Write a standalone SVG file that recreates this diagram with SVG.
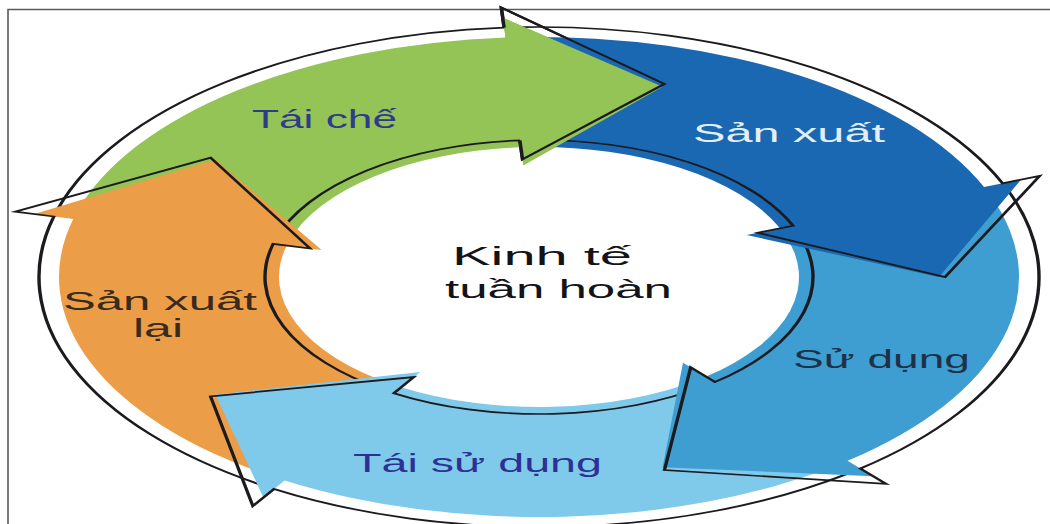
<svg xmlns="http://www.w3.org/2000/svg" xmlns:xlink="http://www.w3.org/1999/xlink" width="1050" height="524" viewBox="0 0 1050 524">
<style>
.ol{fill:none;stroke:#1b1b1f;stroke-width:1.7;stroke-linejoin:miter}
.lbl{font-family:"Liberation Sans",Arial,sans-serif;font-size:25px}
</style>
<defs>
<path id="aGreen" d="M-124.96,-35.83 L-230.70,-66.15 A240,240 0 0 1 -16.74,-239.41 L-18.14,-259.37 L61.80,-190.21 L-7.81,-111.73 L-9.07,-129.68 A130,130 0 0 0 -124.96,-35.83 Z"/>
<path id="oGreen" d="M-131.68,-37.76 L-240.32,-68.91 A250,250 0 0 1 -17.44,-249.39 L-18.84,-269.36 L62.73,-193.06 L-8.23,-117.72 L-9.56,-136.66 A137,137 0 0 0 -131.68,-37.76 Z"/>
<path id="aGreenHead" d="M-16.74,-239.41 L-18.14,-259.37 L61.80,-190.21 L-7.81,-111.73 L-9.07,-129.68"/>
<path id="oGreenHead" d="M-17.44,-249.39 L-18.84,-269.36 L62.73,-193.06 L-8.23,-117.72 L-9.56,-136.66"/>
<path id="aBlue" d="M-4.54,-129.92 L-8.38,-239.85 A240,240 0 0 1 222.52,-89.91 L241.07,-97.40 L200,0 L103.84,-41.96 L120.53,-48.70 A130,130 0 0 0 -4.54,-129.92 Z"/>
<path id="oBlue" d="M-4.78,-136.91 L-8.73,-249.85 A250,250 0 0 1 231.80,-93.66 L250.35,-101.15 L203,0 L109.40,-44.21 L127.01,-51.32 A137,137 0 0 0 -4.78,-136.91 Z"/>
<path id="aSD" d="M122.16,-44.46 L225.53,-82.08 A240,240 0 0 1 154.27,183.85 L167.13,199.17 L61.80,190.21 L71.99,85.80 L83.56,99.59 A130,130 0 0 0 122.16,-44.46 Z"/>
<path id="oSD" d="M128.73,-46.85 L234.93,-85.50 A250,250 0 0 1 160.70,191.52 L173.56,206.84 L62.73,193.06 L75.85,90.40 L88.06,104.95 A137,137 0 0 0 128.73,-46.85 Z"/>
<path id="aLB" d="M80.04,102.44 L147.76,189.12 A240,240 0 0 1 -127.18,203.53 L-137.78,220.49 L-161.80,117.56 L-59.35,94.98 L-68.89,110.25 A130,130 0 0 0 80.04,102.44 Z"/>
<path id="oLB" d="M84.35,107.95 L153.92,197.00 A250,250 0 0 1 -132.48,212.02 L-143.08,228.98 L-164.23,119.32 L-62.53,100.07 L-72.60,116.18 A137,137 0 0 0 84.35,107.95 Z"/>
<path id="aOr" d="M-72.69,107.78 L-134.21,198.97 A240,240 0 0 1 -232.87,-58.06 L-252.28,-62.90 L-161.80,-117.56 L-108.67,-27.10 L-126.14,-31.45 A130,130 0 0 0 -72.69,107.78 Z"/>
<path id="oOr" d="M-76.60,113.58 L-139.81,207.27 A250,250 0 0 1 -242.58,-60.48 L-261.99,-65.32 L-164.23,-119.32 L-114.49,-28.55 L-132.93,-33.14 A137,137 0 0 0 -76.60,113.58 Z"/>
</defs>
<rect width="1050" height="524" fill="#ffffff"/>
<path d="M8,524 V9.5 H1050" fill="none" stroke="#5a5a5a" stroke-width="1.6"/>

<g id="ring" transform="translate(539,277) scale(2,1)">
  <g id="tai-che-body">
    <use xlink:href="#aGreen" fill="#94c356"/>
    <use xlink:href="#oGreen" class="ol"/>
  </g>
  <g id="san-xuat-lai-shape">
    <use xlink:href="#aOr" fill="#eb9e47"/>
    <use xlink:href="#oOr" class="ol"/>
  </g>
  <g id="tai-su-dung-shape">
    <use xlink:href="#aLB" fill="#7fc9ea"/>
    <use xlink:href="#oLB" class="ol"/>
  </g>
  <g id="su-dung-shape">
    <use xlink:href="#aSD" fill="#3f9ed1"/>
    <use xlink:href="#oSD" class="ol"/>
  </g>
  <g id="san-xuat-shape">
    <use xlink:href="#aBlue" fill="#1b68b2"/>
    <use xlink:href="#oBlue" class="ol"/>
  </g>
  <g id="tai-che-head">
    <use xlink:href="#aGreenHead" fill="#94c356"/>
    <use xlink:href="#oGreenHead" class="ol"/>
  </g>
</g>

<g id="connectors"></g>

<g id="label-tai-che"><text class="lbl" x="252" y="128" font-size="24" fill="#2e3a8c" textLength="145" lengthAdjust="spacingAndGlyphs">Tái chế</text></g>
<g id="label-san-xuat"><text class="lbl" x="693" y="142" fill="#e4eef9" textLength="192" lengthAdjust="spacingAndGlyphs">Sản xuất</text></g>
<g id="label-su-dung"><text class="lbl" x="793" y="368" fill="#1d3248" textLength="177" lengthAdjust="spacingAndGlyphs">Sử dụng</text></g>
<g id="label-tai-su-dung"><text class="lbl" x="353" y="472" font-size="24" fill="#2e3192" textLength="249" lengthAdjust="spacingAndGlyphs">Tái sử dụng</text></g>
<g id="label-san-xuat-lai">
  <text class="lbl" x="63" y="310" fill="#3a2a1e" textLength="194" lengthAdjust="spacingAndGlyphs">Sản xuất</text>
  <text class="lbl" x="133" y="337" fill="#3a2a1e" textLength="50" lengthAdjust="spacingAndGlyphs">lại</text>
</g>
<g id="center">
  <text class="lbl" x="452" y="265" font-size="28" fill="#141418" textLength="180" lengthAdjust="spacingAndGlyphs">Kinh tế</text>
  <text class="lbl" x="445" y="298" font-size="28" fill="#141418" textLength="227" lengthAdjust="spacingAndGlyphs">tuần hoàn</text>
</g>
</svg>
